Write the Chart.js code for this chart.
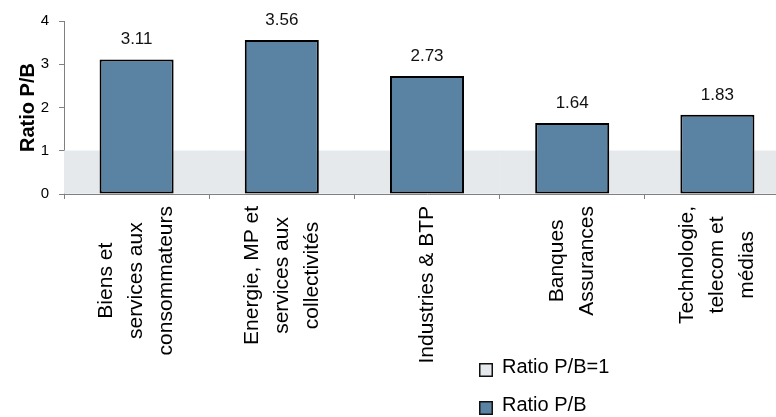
<!DOCTYPE html>
<html><head><meta charset="utf-8">
<script src="https://cdn.jsdelivr.net/npm/chart.js@4/dist/chart.umd.min.js"></script>
<style>
html,body{margin:0;padding:0;background:#fff;overflow:hidden;}
#wrap{position:relative;width:800px;height:417px;}
</style></head><body>
<div id="wrap"><canvas id="c"></canvas></div>
<script>
// Sector price-to-book ratios
const categories = [
  ["Biens et", "services aux", "consommateurs"],
  ["Energie, MP et", "services aux", "collectivités"],
  ["Industries & BTP"],
  ["Banques", "Assurances"],
  ["Technologie,", "telecom et", "médias"]
];
const ratioPB = [3.11, 3.56, 2.73, 1.64, 1.83];
const ratioRef = [1, 1, 1, 1, 1];
const yTicks = [0, 1, 2, 3, 4];
const seriesNames = ["Ratio P/B=1", "Ratio P/B"];
const yTitle = "Ratio P/B";

const FONT = "'Liberation Sans', Arial, sans-serif";
const BLUE = "#5a82a2";
const BAND = "#e6e9ec";
const AXIS = "#808080";

Chart.defaults.font.family = FONT;

// value labels above the bars
const valueLabels = {
  id: "valueLabels",
  afterDatasetsDraw(chart) {
    const ctx = chart.ctx;
    const meta = chart.getDatasetMeta(0);
    ctx.save();
    ctx.font = "17px " + FONT;
    ctx.fillStyle = "#111";
    ctx.textAlign = "center";
    ctx.textBaseline = "alphabetic";
    meta.data.forEach((bar, i) => {
      ctx.fillText(ratioPB[i].toFixed(2), bar.x, bar.y - 15);
    });
    ctx.restore();
  }
};

// rotated, centred multi-line category labels
const categoryLabels = {
  id: "categoryLabels",
  afterDraw(chart) {
    const ctx = chart.ctx;
    const xs = chart.scales.x;
    const lh = 30;
    ctx.save();
    ctx.font = "21px " + FONT;
    ctx.fillStyle = "#000";
    ctx.textAlign = "center";
    ctx.textBaseline = "middle";
    categories.forEach((lines, i) => {
      const cx = xs.getPixelForValue(i);
      const w = Math.max(...lines.map(l => ctx.measureText(l).width));
      const cy = xs.top + 12 + w / 2;
      lines.forEach((line, j) => {
        const x = cx + (j - (lines.length - 1) / 2) * lh;
        ctx.save();
        ctx.translate(x, cy);
        ctx.rotate(-Math.PI / 2);
        ctx.fillText(line, 0, 0);
        ctx.restore();
      });
    });
    ctx.restore();
  }
};

// vertical legend under the plot
const sideLegend = {
  id: "sideLegend",
  afterDraw(chart) {
    const ctx = chart.ctx;
    const items = [
      { text: seriesNames[0], fill: BAND, y: 363 },
      { text: seriesNames[1], fill: BLUE, y: 401 }
    ];
    ctx.save();
    ctx.font = "20px " + FONT;
    ctx.textBaseline = "alphabetic";
    items.forEach(it => {
      ctx.fillStyle = it.fill;
      ctx.fillRect(479, it.y, 14, 14);
      ctx.strokeStyle = "#111";
      ctx.lineWidth = 1.5;
      ctx.strokeRect(479.75, it.y + 0.75, 12.5, 12.5);
      ctx.fillStyle = "#000";
      ctx.fillText(it.text, 502, it.y + 10);
    });
    ctx.restore();
  }
};

new Chart(document.getElementById("c"), {
  type: "bar",
  data: {
    labels: categories,
    datasets: [
      {
        label: seriesNames[1],
        data: ratioPB,
        backgroundColor: BLUE,
        borderColor: "#000",
        borderWidth: 2,
        borderSkipped: false,
        barPercentage: 0.51,
        categoryPercentage: 1,
        grouped: false,
        order: 1
      },
      {
        label: seriesNames[0],
        data: ratioRef,
        backgroundColor: BAND,
        borderWidth: 0,
        barPercentage: 1,
        categoryPercentage: 1,
        grouped: false,
        order: 2
      }
    ]
  },
  options: {
    responsive: true,
    maintainAspectRatio: false,
    animation: false,
    devicePixelRatio: 1,
    layout: { padding: { left: 0, right: 10, top: 21, bottom: 218 } },
    plugins: { legend: { display: false }, tooltip: { enabled: false } },
    scales: {
      x: {
        type: "category",
        offset: true,
        ticks: { display: false },
        grid: { display: true, offset: true, drawOnChartArea: false, drawTicks: true, tickLength: 5, color: AXIS },
        border: { display: true, color: AXIS, width: 1 }
      },
      y: {
        min: 0,
        max: 4,
        afterBuildTicks: s => { s.ticks = yTicks.map(v => ({ value: v })); },
        afterFit: s => { s.width = 64; },
        ticks: { color: "#000", font: { size: 15 }, padding: 10 },
        grid: { drawOnChartArea: false, drawTicks: true, tickLength: 5, color: AXIS },
        border: { display: true, color: AXIS, width: 1 },
        title: { display: true, text: yTitle, color: "#000", font: { size: 20, weight: "bold" }, padding: { top: 16, bottom: 0 } }
      }
    }
  },
  plugins: [valueLabels, categoryLabels, sideLegend]
});
</script>
</body></html>
